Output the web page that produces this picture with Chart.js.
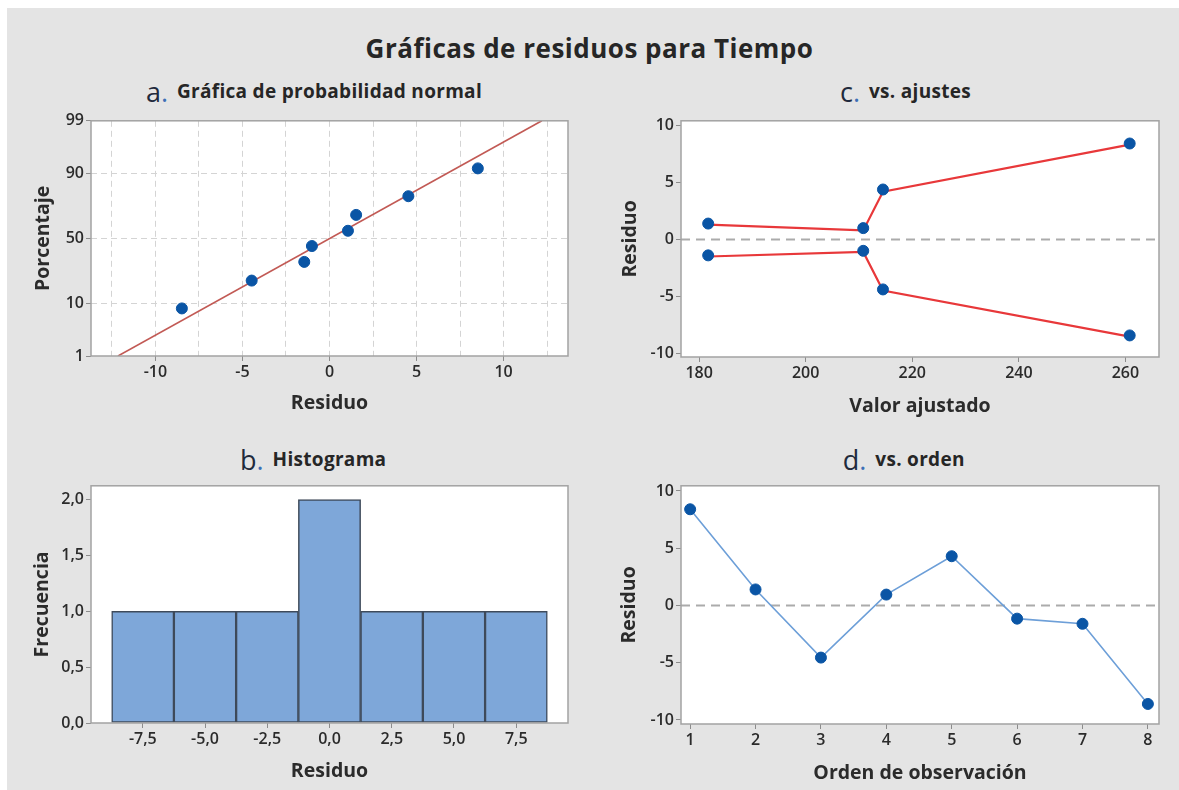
<!DOCTYPE html>
<html>
<head>
<meta charset="utf-8">
<script src="https://cdn.jsdelivr.net/npm/chart.js@4.4.1/dist/chart.umd.min.js"></script>
<style>
  html, body { margin: 0; padding: 0; background: #fff; }
  #page { position: relative; width: 1179px; height: 790px; overflow: hidden; background: #fff; }
  #fondo { position: absolute; left: 7px; top: 8px; width: 1172px; height: 782px; background: #e4e4e4; }
  canvas { position: absolute; }
  .titulo { position: absolute; left: 0; width: 1179px; top: 30px; line-height: 34px; text-align: center;
            font: bold 26px "Open Sans", sans-serif; letter-spacing: 0.5px; color: #262626; }
  .pt { position: absolute; text-align: center; line-height: 24px; white-space: nowrap;
        font: bold 19px "Open Sans", sans-serif; letter-spacing: 0.3px; color: #262626; }
  .pt .m { position: relative; display: inline-block; }
  .pt .p { position: absolute; right: 100%; bottom: -3px; padding-right: 9px; letter-spacing: 0;
           font: normal 27px "Open Sans", sans-serif; color: #1f2a3c; line-height: 30px; }
  .pt .p i { font-style: normal; color: #3b6fb6; }
</style>
</head>
<body>
<div id="page">
  <div id="fondo"></div>
  <div class="titulo">Gráficas de residuos para Tiempo</div>
  <div class="pt" style="left:91px;width:477px;top:78px;"><span class="m"><span class="p">a<i>.</i></span>Gráfica de probabilidad normal</span></div>
  <div class="pt" style="left:681px;width:478px;top:78px;"><span class="m"><span class="p">c<i>.</i></span>vs. ajustes</span></div>
  <div class="pt" style="left:91px;width:477px;top:446px;"><span class="m"><span class="p">b<i>.</i></span>Histograma</span></div>
  <div class="pt" style="left:681px;width:478px;top:446px;"><span class="m"><span class="p">d<i>.</i></span>vs. orden</span></div>
  <canvas id="cA"></canvas>
  <canvas id="cB"></canvas>
  <canvas id="cC"></canvas>
  <canvas id="cD"></canvas>
</div>
<script>
// ---- Datos ----
// a. Probabilidad normal: residuos ordenados y su porcentaje acumulado
const residuosOrdenados = [-8.48, -4.47, -1.45, -1.01, 1.06, 1.53, 4.53, 8.52];
const porcentajes = [8.3, 20.2, 32.1, 44.0, 56.0, 67.9, 79.8, 91.7];
const rectaX = [-12.15, 12.2];
const rectaPct = [1, 99];
const ticksPct = [1, 10, 50, 90, 99];
const ticksResiduoA = [-12.5, -10, -7.5, -5, -2.5, 0, 2.5, 5, 7.5, 10, 12.5];

// b. Histograma
const centrosHist = [-7.5, -5.0, -2.5, 0.0, 2.5, 5.0, 7.5];
const frecuencias = [1, 1, 1, 2, 1, 1, 1];
const ticksFrecuencia = [0, 0.5, 1, 1.5, 2];

// c. Residuos vs. ajustes
const ajustados = [181.7, 181.7, 210.8, 210.8, 214.5, 214.5, 260.8, 260.8];
const residuosAjuste = [1.4, -1.4, 1.0, -1.0, 4.4, -4.4, 8.45, -8.45];
const trazoX = [181.7, 210.8, 214.5, 260.8];
const trazoSuperior = [1.3, 0.8, 4.2, 8.35];
const trazoInferior = [-1.5, -1.1, -4.5, -8.55];
const ticksAjustado = [180, 200, 220, 240, 260];
const ticksResiduo = [-10, -5, 0, 5, 10];

// d. Residuos vs. orden
const orden = [1, 2, 3, 4, 5, 6, 7, 8];
const residuosOrden = [8.4, 1.4, -4.55, 0.95, 4.3, -1.15, -1.6, -8.6];

// ---- Utilidades ----
const FAM = '"Open Sans", sans-serif';
const AZUL = '#0a55a5';
const TEXTO = '#2b2b2b';

function probit(p) {
  const a = [-3.969683028665376e+01, 2.209460984245205e+02, -2.759285104469687e+02, 1.383577518672690e+02, -3.066479806614716e+01, 2.506628277459239e+00];
  const b = [-5.447609879822406e+01, 1.615858368580409e+02, -1.556989798598866e+02, 6.680131188771972e+01, -1.328068155288572e+01];
  const c = [-7.784894002430293e-03, -3.223964580411365e-01, -2.400758277161838e+00, -2.549732539343734e+00, 4.374664141464968e+00, 2.938163982698783e+00];
  const d = [7.784695709041462e-03, 3.224671290700398e-01, 2.445134137142996e+00, 3.754408661907416e+00];
  const pl = 0.02425, ph = 1 - pl;
  let q, r;
  if (p < pl) {
    q = Math.sqrt(-2 * Math.log(p));
    return (((((c[0]*q+c[1])*q+c[2])*q+c[3])*q+c[4])*q+c[5]) / ((((d[0]*q+d[1])*q+d[2])*q+d[3])*q+1);
  }
  if (p <= ph) {
    q = p - 0.5; r = q * q;
    return (((((a[0]*r+a[1])*r+a[2])*r+a[3])*r+a[4])*r+a[5])*q / (((((b[0]*r+b[1])*r+b[2])*r+b[3])*r+b[4])*r+1);
  }
  q = Math.sqrt(-2 * Math.log(1 - p));
  return -(((((c[0]*q+c[1])*q+c[2])*q+c[3])*q+c[4])*q+c[5]) / ((((d[0]*q+d[1])*q+d[2])*q+d[3])*q+1);
}

const coma = v => v.toFixed(1).replace('.', ',');

// Fondo blanco del área de trazado y marco gris alrededor
const marco = {
  id: 'marco',
  beforeDraw(chart) {
    const { ctx, chartArea: r } = chart;
    ctx.save();
    ctx.fillStyle = '#ffffff';
    ctx.fillRect(r.left, r.top, r.right - r.left, r.bottom - r.top);
    ctx.restore();
  },
  afterDatasetsDraw(chart) {
    const { ctx, chartArea: r } = chart;
    ctx.save();
    ctx.strokeStyle = '#a2a2a2';
    ctx.lineWidth = 1.5;
    ctx.strokeRect(r.left, r.top, r.right - r.left, r.bottom - r.top);
    ctx.restore();
  }
};

const TITULO_FONT = { family: FAM, size: 19.5, weight: 'bold', lineHeight: 1.2 };
const MEDIA_LINEA = 19.5 * 1.2 / 2;
const TICK_FONT = { family: FAM, size: 16, weight: '600', lineHeight: 1.1 };

function ejes(caja, area, yTituloX, xTituloY, x, y) {
  return {
    x: {
      type: 'linear', position: 'bottom', min: x.min, max: x.max, offset: false,
      afterFit: s => { s.height = caja.y + caja.h - area.b; },
      afterBuildTicks: s => { s.ticks = x.ticks.map(v => ({ value: v })); },
      ticks: { autoSkip: false, maxRotation: 0, padding: 3, color: TEXTO,
               font: TICK_FONT, callback: x.label },
      grid: { display: true, offset: false, drawOnChartArea: !!x.grid, drawTicks: true, tickLength: 5,
              color: x.grid ? '#d4d4d4' : 'rgba(0,0,0,0)',
              tickColor: x.tickColor || '#8c8c8c', tickWidth: 1, lineWidth: 1 },
      border: { display: false, dash: [6, 4] },
      title: { display: true, text: x.title, color: TEXTO, font: TITULO_FONT,
               padding: { top: 0, bottom: caja.y + caja.h - xTituloY - MEDIA_LINEA } }
    },
    y: {
      type: 'linear', position: 'left', min: y.min, max: y.max,
      afterFit: s => { s.width = area.l - caja.x; },
      afterBuildTicks: s => { s.ticks = y.ticks.map(v => ({ value: v })); },
      ticks: { autoSkip: false, padding: 2, color: TEXTO,
               font: TICK_FONT, callback: y.label },
      grid: { display: true, drawOnChartArea: !!y.grid, drawTicks: true, tickLength: 5,
              color: y.grid || 'rgba(0,0,0,0)', tickColor: '#8c8c8c', tickWidth: 1, lineWidth: 1 },
      border: { display: false, dash: [6, 4] },
      title: { display: true, text: y.title, color: TEXTO, font: TITULO_FONT,
               padding: { top: yTituloX - caja.x - MEDIA_LINEA, bottom: 0 } }
    }
  };
}

function panel(id, caja, area, tipo, datasets, escalas) {
  const cv = document.getElementById(id);
  cv.width = caja.w; cv.height = caja.h;
  cv.style.left = caja.x + 'px'; cv.style.top = caja.y + 'px';
  cv.style.width = caja.w + 'px'; cv.style.height = caja.h + 'px';
  return new Chart(cv, {
    type: tipo,
    data: { datasets },
    options: {
      responsive: false, animation: false, devicePixelRatio: 1,
      layout: { padding: { left: 0, top: area.t - caja.y, right: caja.x + caja.w - area.r, bottom: 0 } },
      plugins: { legend: { display: false }, tooltip: { enabled: false } },
      scales: escalas
    },
    plugins: [marco]
  });
}

const puntos = { pointRadius: 5.5, pointBackgroundColor: AZUL, pointBorderColor: AZUL, pointBorderWidth: 1 };

// ---- a. Gráfica de probabilidad normal ----
const cajaA = { x: 15, y: 110, w: 575, h: 315 };
const areaA = { l: 91, t: 120, r: 568, b: 356 };
const zTicks = ticksPct.map(p => probit(p / 100));
panel('cA', cajaA, areaA, 'scatter', [
  Object.assign({ data: residuosOrdenados.map((v, i) => ({ x: v, y: probit(porcentajes[i] / 100) })),
                  showLine: false }, puntos),
  { type: 'line', data: rectaX.map((v, i) => ({ x: v, y: probit(rectaPct[i] / 100) })),
    borderColor: '#c25a55', borderWidth: 1.6, pointRadius: 0, fill: false }
], ejes(cajaA, areaA, 43, 403,
  { min: -13.7, max: 13.7, ticks: ticksResiduoA, title: 'Residuo', grid: true,
    label: v => (v % 5 === 0 ? String(v) : ''),
    tickColor: c => (c.tick && c.tick.value % 5 === 0 ? '#8c8c8c' : 'rgba(0,0,0,0)') },
  { min: probit(0.01), max: probit(0.99), ticks: zTicks, title: 'Porcentaje',
    grid: c => (c.index === 0 || c.index === ticksPct.length - 1 ? 'rgba(0,0,0,0)' : '#d4d4d4'),
    label: (v, i) => String(ticksPct[i]) }
));

// ---- b. Histograma ----
const cajaB = { x: 15, y: 475, w: 575, h: 315 };
const areaB = { l: 91, t: 483, r: 568, b: 723 };
panel('cB', cajaB, areaB, 'bar', [
  { data: centrosHist.map((v, i) => ({ x: v, y: frecuencias[i] })),
    backgroundColor: '#7ea7d9', borderColor: '#3e4a5a', borderWidth: 1.5, borderSkipped: false,
    barPercentage: 1, categoryPercentage: 1 }
], ejes(cajaB, areaB, 42, 771,
  { min: -9.58, max: 9.58, ticks: centrosHist, title: 'Residuo', label: v => coma(v) },
  { min: 0, max: 2.124, ticks: ticksFrecuencia, title: 'Frecuencia', label: v => coma(v) }
));

// ---- c. vs. ajustes ----
const cajaC = { x: 595, y: 110, w: 584, h: 315 };
const areaC = { l: 681, t: 120, r: 1159, b: 357 };
const minC = 176.6, maxC = 266.3;
panel('cC', cajaC, areaC, 'scatter', [
  Object.assign({ data: ajustados.map((v, i) => ({ x: v, y: residuosAjuste[i] })), showLine: false }, puntos),
  { data: trazoX.map((v, i) => ({ x: v, y: trazoSuperior[i] })), showLine: true,
    borderColor: '#e8383a', borderWidth: 2.2, pointRadius: 0 },
  { data: trazoX.map((v, i) => ({ x: v, y: trazoInferior[i] })), showLine: true,
    borderColor: '#e8383a', borderWidth: 2.2, pointRadius: 0 },
  { data: [{ x: minC, y: 0 }, { x: maxC, y: 0 }], showLine: true,
    borderColor: '#ababab', borderWidth: 2, borderDash: [9, 6], pointRadius: 0 }
], ejes(cajaC, areaC, 630, 406,
  { min: minC, max: maxC, ticks: ticksAjustado, title: 'Valor ajustado', label: v => String(v) },
  { min: -10.35, max: 10.45, ticks: ticksResiduo, title: 'Residuo', label: v => String(v) }
));

// ---- d. vs. orden ----
const cajaD = { x: 595, y: 475, w: 584, h: 315 };
const areaD = { l: 681, t: 482, r: 1159, b: 724 };
const minD = 0.86, maxD = 8.17;
panel('cD', cajaD, areaD, 'scatter', [
  Object.assign({ data: orden.map((v, i) => ({ x: v, y: residuosOrden[i] })), showLine: true,
                  borderColor: '#6d9fd8', borderWidth: 1.6 }, puntos),
  { data: [{ x: minD, y: 0 }, { x: maxD, y: 0 }], showLine: true,
    borderColor: '#ababab', borderWidth: 2, borderDash: [9, 6], pointRadius: 0 }
], ejes(cajaD, areaD, 629, 773,
  { min: minD, max: maxD, ticks: orden, title: 'Orden de observación', label: v => String(v) },
  { min: -10.35, max: 10.45, ticks: ticksResiduo, title: 'Residuo', label: v => String(v) }
));
</script>
</body>
</html>
